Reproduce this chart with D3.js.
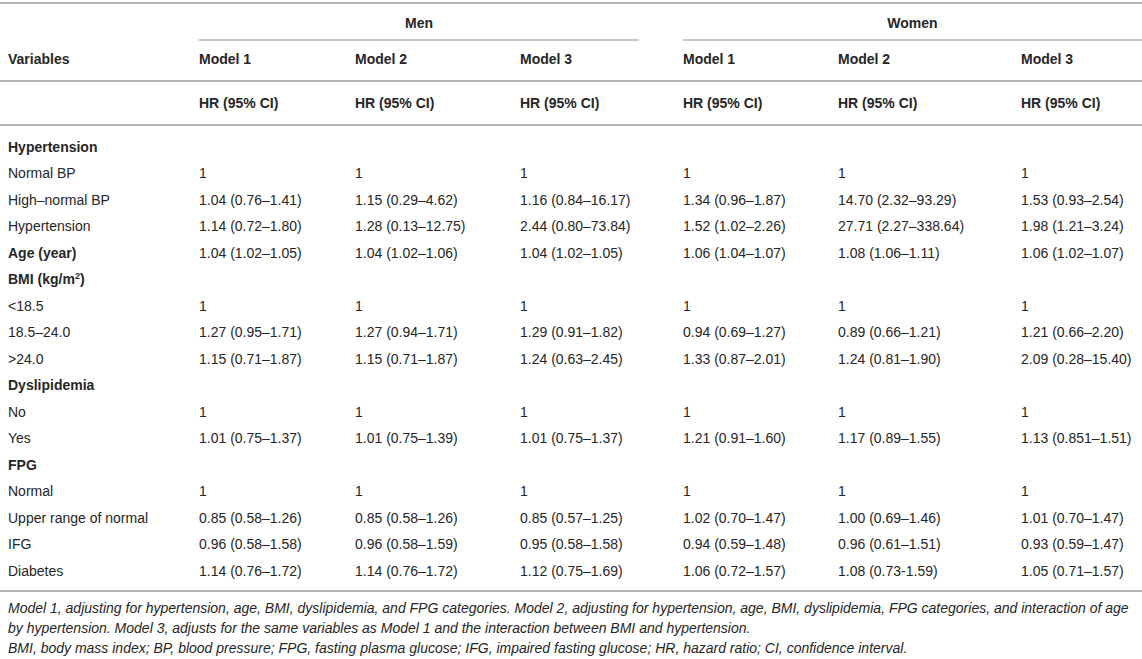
<!DOCTYPE html>
<html>
<head>
<meta charset="utf-8">
<script src="https://cdn.jsdelivr.net/npm/d3@7"></script>
<style>
  html, body { margin: 0; padding: 0; background: #fff; }
  svg { display: block; font-family: "Liberation Sans", Arial, Helvetica, sans-serif; }
</style>
</head>
<body>
<svg id="chart" width="1142" height="659"></svg>
<script>
// ---------- data ----------
const groups = ["Men", "Women"];
const models = ["Model 1", "Model 2", "Model 3"];
const subHeader = "HR (95% CI)";
const firstHeader = "Variables";

const rowLabels = [
  "Hypertension", "Normal BP", "High\u2013normal BP", "Hypertension", "Age (year)",
  "BMI (kg/m2)", "<18.5", "18.5\u201324.0", ">24.0",
  "Dyslipidemia", "No", "Yes",
  "FPG", "Normal", "Upper range of normal", "IFG", "Diabetes"
];
const rowBold = [true, false, false, false, true, true, false, false, false, true, false, false, true, false, false, false, false];

const menModel1 = ["", "1", "1.04 (0.76\u20131.41)", "1.14 (0.72\u20131.80)", "1.04 (1.02\u20131.05)", "", "1", "1.27 (0.95\u20131.71)", "1.15 (0.71\u20131.87)", "", "1", "1.01 (0.75\u20131.37)", "", "1", "0.85 (0.58\u20131.26)", "0.96 (0.58\u20131.58)", "1.14 (0.76\u20131.72)"];
const menModel2 = ["", "1", "1.15 (0.29\u20134.62)", "1.28 (0.13\u201312.75)", "1.04 (1.02\u20131.06)", "", "1", "1.27 (0.94\u20131.71)", "1.15 (0.71\u20131.87)", "", "1", "1.01 (0.75\u20131.39)", "", "1", "0.85 (0.58\u20131.26)", "0.96 (0.58\u20131.59)", "1.14 (0.76\u20131.72)"];
const menModel3 = ["", "1", "1.16 (0.84\u201316.17)", "2.44 (0.80\u201373.84)", "1.04 (1.02\u20131.05)", "", "1", "1.29 (0.91\u20131.82)", "1.24 (0.63\u20132.45)", "", "1", "1.01 (0.75\u20131.37)", "", "1", "0.85 (0.57\u20131.25)", "0.95 (0.58\u20131.58)", "1.12 (0.75\u20131.69)"];
const womenModel1 = ["", "1", "1.34 (0.96\u20131.87)", "1.52 (1.02\u20132.26)", "1.06 (1.04\u20131.07)", "", "1", "0.94 (0.69\u20131.27)", "1.33 (0.87\u20132.01)", "", "1", "1.21 (0.91\u20131.60)", "", "1", "1.02 (0.70\u20131.47)", "0.94 (0.59\u20131.48)", "1.06 (0.72\u20131.57)"];
const womenModel2 = ["", "1", "14.70 (2.32\u201393.29)", "27.71 (2.27\u2013338.64)", "1.08 (1.06\u20131.11)", "", "1", "0.89 (0.66\u20131.21)", "1.24 (0.81\u20131.90)", "", "1", "1.17 (0.89\u20131.55)", "", "1", "1.00 (0.69\u20131.46)", "0.96 (0.61\u20131.51)", "1.08 (0.73-1.59)"];
const womenModel3 = ["", "1", "1.53 (0.93\u20132.54)", "1.98 (1.21\u20133.24)", "1.06 (1.02\u20131.07)", "", "1", "1.21 (0.66\u20132.20)", "2.09 (0.28\u201315.40)", "", "1", "1.13 (0.851\u20131.51)", "", "1", "1.01 (0.70\u20131.47)", "0.93 (0.59\u20131.47)", "1.05 (0.71\u20131.57)"];

const footnotes = [
  "Model 1, adjusting for hypertension, age, BMI, dyslipidemia, and FPG categories. Model 2, adjusting for hypertension, age, BMI, dyslipidemia, FPG categories, and interaction of age",
  "by hypertension. Model 3, adjusts for the same variables as Model 1 and the interaction between BMI and hypertension.",
  "BMI, body mass index; BP, blood pressure; FPG, fasting plasma glucose; IFG, impaired fasting glucose; HR, hazard ratio; CI, confidence interval."
];

// ---------- layout ----------
const svg = d3.select("#chart");
const W = 1142;
const textColor = "#262626";
const ruleColor = "#b4b4b4";

const valueCols = [menModel1, menModel2, menModel3, womenModel1, womenModel2, womenModel3];
const colKeys = ["label", "m1", "m2", "m3", "w1", "w2", "w3"];
const x = d3.scaleOrdinal().domain(colKeys).range([8, 199, 355, 520, 683, 838, 1021]);
const groupSpan = { Men: [199, 639], Women: [683, W] };

const y = d3.scaleLinear().domain([0, rowLabels.length - 1]).range([147, 147 + 26.5 * (rowLabels.length - 1)]);

function rule(y0, x0, x1, w) {
  svg.append("line").attr("x1", x0).attr("x2", x1).attr("y1", y0).attr("y2", y0)
    .attr("stroke", ruleColor).attr("stroke-width", w || 2);
}

// rules
rule(3, 0, W, 2.2);
groups.forEach(g => rule(40, groupSpan[g][0], groupSpan[g][1], 1.6));
rule(81, 0, W, 2);
rule(125, 0, W, 2);
rule(591, 0, W, 2);

// group titles
svg.selectAll("text.group").data(groups).join("text")
  .attr("class", "group")
  .attr("x", d => (groupSpan[d][0] + groupSpan[d][1]) / 2)
  .attr("y", 23).attr("dy", "0.35em")
  .attr("text-anchor", "middle")
  .attr("font-size", 14).attr("font-weight", "bold").attr("fill", textColor)
  .text(d => d);

// header row
svg.append("text").attr("x", x("label")).attr("y", 59).attr("dy", "0.35em")
  .attr("font-size", 14).attr("font-weight", "bold").attr("fill", textColor).text(firstHeader);

const modelHeaders = colKeys.slice(1).map((k, i) => ({ k, t: models[i % 3] }));
svg.selectAll("text.model").data(modelHeaders).join("text")
  .attr("class", "model")
  .attr("x", d => x(d.k)).attr("y", 59).attr("dy", "0.35em")
  .attr("font-size", 14).attr("font-weight", "bold").attr("fill", textColor)
  .text(d => d.t);

svg.selectAll("text.sub").data(colKeys.slice(1)).join("text")
  .attr("class", "sub")
  .attr("x", d => x(d)).attr("y", 103).attr("dy", "0.35em")
  .attr("font-size", 14).attr("font-weight", "bold").attr("fill", textColor)
  .text(subHeader);

// row labels
const labelSel = svg.selectAll("text.rowlabel").data(rowLabels).join("text")
  .attr("class", "rowlabel")
  .attr("x", x("label")).attr("y", (d, i) => y(i)).attr("dy", "0.35em")
  .attr("font-size", 14)
  .attr("font-weight", (d, i) => rowBold[i] ? "bold" : "normal")
  .attr("fill", textColor);
labelSel.each(function(d) {
  const t = d3.select(this);
  if (d === "BMI (kg/m2)") {
    t.append("tspan").text("BMI (kg/m");
    t.append("tspan").attr("font-size", 9).attr("dy", "-0.55em").text("2");
    t.append("tspan").attr("dy", "0.35em").text(")");
  } else {
    t.text(d);
  }
});

// values
const cells = [];
valueCols.forEach((col, ci) => col.forEach((v, ri) => { if (v) cells.push({ k: colKeys[ci + 1], ri, v }); }));
svg.selectAll("text.cell").data(cells).join("text")
  .attr("class", "cell")
  .attr("x", d => x(d.k)).attr("y", d => y(d.ri)).attr("dy", "0.35em")
  .attr("font-size", 14).attr("fill", textColor)
  .text(d => d.v);

// footnotes
svg.selectAll("text.fn").data(footnotes).join("text")
  .attr("class", "fn")
  .attr("x", 8).attr("y", (d, i) => 608 + i * 20).attr("dy", "0.35em")
  .attr("font-size", 14).attr("font-style", "italic").attr("fill", textColor)
  .text(d => d);
</script>
</body>
</html>
